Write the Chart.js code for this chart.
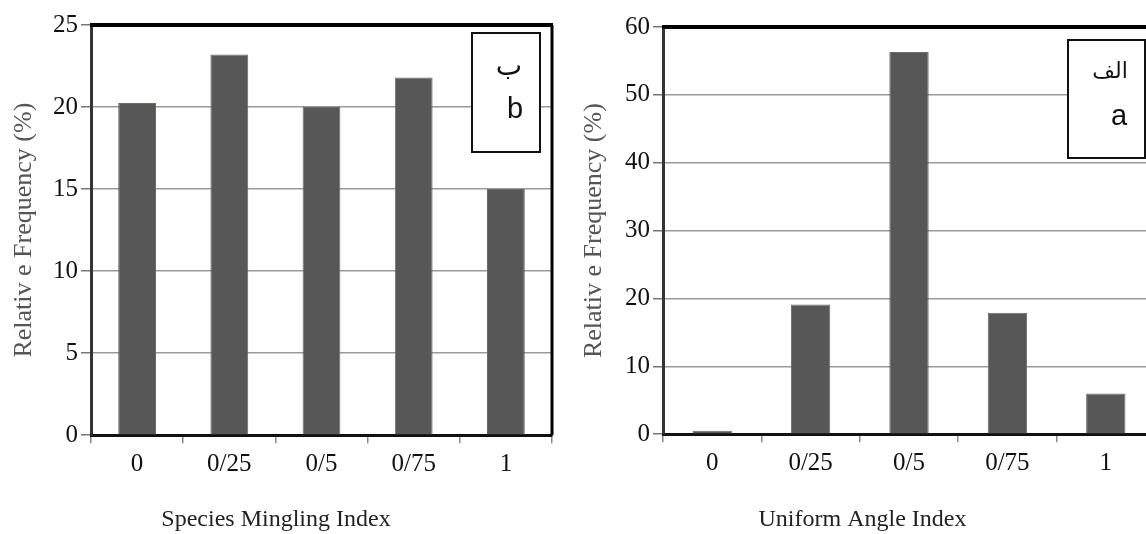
<!DOCTYPE html>
<html>
<head>
<meta charset="utf-8">
<script src="https://cdn.jsdelivr.net/npm/chart.js@4.4.1/dist/chart.umd.min.js"></script>
<style>
  html, body { margin: 0; padding: 0; background: #fff; }
  #wrap { position: relative; width: 1146px; height: 534px; overflow: hidden; background: #fff; }
  #chartB { position: absolute; left: 0; top: 0; }
  #chartA { position: absolute; left: 570px; top: 0; }
</style>
</head>
<body>
<div id="wrap">
  <canvas id="chartB" width="586" height="534"></canvas>
  <canvas id="chartA" width="654" height="534"></canvas>
</div>
<script>
'use strict';
var INDEX_LABELS = ['0', '0/25', '0/5', '0/75', '1'];
var MINGLING_VALUES = [20.25, 23.2, 20.0, 21.8, 15.0];
var ANGLE_VALUES = [0.5, 19.1, 56.3, 17.9, 6.0];
var MINGLING_AXIS = [0, 25, 5];   // min, max, step
var ANGLE_AXIS = [0, 60, 10];
var Y_TITLE = 'Relativ e Frequency (%)';
var MINGLING_TITLE = 'Species Mingling Index';
var ANGLE_TITLE = 'Uniform Angle Index';
var MINGLING_TAG = ['ب', 'b'];
var ANGLE_TAG = ['الف', 'a'];

var SERIF = 'Liberation Serif, Times New Roman, serif';

// thick top and right border of the plot, plus the white tag box
var framePlugin = {
    id: 'frame',
    afterDraw: function (chart, args, opts) {
        var ctx = chart.ctx;
        var a = chart.chartArea;
        ctx.save();
        ctx.strokeStyle = '#000';
        ctx.lineWidth = 4;
        ctx.beginPath();
        ctx.moveTo(a.left - 1, a.top);
        ctx.lineTo(a.right + 1, a.top);
        ctx.stroke();
        ctx.lineWidth = 3;
        ctx.beginPath();
        ctx.moveTo(a.right, a.top);
        ctx.lineTo(a.right, a.bottom);
        ctx.stroke();

        var b = opts.box;
        ctx.fillStyle = '#fff';
        ctx.fillRect(b.x, b.y, b.w, b.h);
        ctx.lineWidth = 2;
        ctx.strokeStyle = '#111';
        ctx.strokeRect(b.x, b.y, b.w, b.h);
        ctx.fillStyle = '#111';
        ctx.textAlign = 'center';
        ctx.textBaseline = 'middle';
        ctx.font = b.fs + 'px "DejaVu Sans", sans-serif';
        ctx.fillText(opts.lines[0], b.tx[0], b.ty[0]);
        ctx.font = '29px "Liberation Sans", Arial, sans-serif';
        ctx.fillText(opts.lines[1], b.tx[1], b.ty[1]);
        ctx.restore();
    }
};

function makeChart(id, values, axis, xTitle, tag, g) {
    var ctx = document.getElementById(id).getContext('2d');
    return new Chart(ctx, {
        type: 'bar',
        data: {
            labels: INDEX_LABELS,
            datasets: [{
                data: values,
                backgroundColor: '#575757',
                borderColor: '#6c6c5e',
                borderWidth: 1,
                barPercentage: g.bar,
                categoryPercentage: 1.0
            }]
        },
        plugins: [framePlugin],
        options: {
            responsive: false,
            animation: false,
            devicePixelRatio: 1,
            layout: { padding: { left: 0, top: g.top, right: g.right, bottom: 0 } },
            plugins: {
                legend: { display: false },
                tooltip: { enabled: false },
                title: {
                    display: true,
                    position: 'bottom',
                    text: xTitle,
                    color: '#222',
                    font: { family: SERIF, size: 24, weight: 'normal' },
                    padding: { top: 14, bottom: 0 }
                },
                frame: { box: g.box, lines: tag }
            },
            scales: {
                x: {
                    afterFit: function (scale) { scale.height = g.xh; },
                    grid: {
                        drawOnChartArea: false,
                        drawTicks: true,
                        tickLength: 8,
                        tickColor: '#888',
                        lineWidth: 1.5
                    },
                    border: { color: '#111', width: 3 },
                    ticks: {
                        color: '#111',
                        padding: 6,
                        font: { family: SERIF, size: 25 }
                    }
                },
                y: {
                    min: axis[0],
                    max: axis[1],
                    afterFit: function (scale) { scale.width = g.yw; },
                    grid: {
                        color: '#9a9a9a',
                        lineWidth: 1.5,
                        tickLength: 10,
                        tickColor: '#777'
                    },
                    border: { color: '#333', width: 3 },
                    ticks: {
                        stepSize: axis[2],
                        color: '#111',
                        padding: 3,
                        font: { family: SERIF, size: 25 }
                    },
                    title: {
                        display: true,
                        text: Y_TITLE,
                        color: '#555',
                        font: { family: SERIF, size: 26 },
                        padding: { top: 9, bottom: 0 }
                    }
                }
            }
        }
    });
}

makeChart('chartB', MINGLING_VALUES, MINGLING_AXIS, MINGLING_TITLE, MINGLING_TAG, {
    top: 25, right: 34, yw: 91, xh: 56, bar: 0.41,
    box: { x: 472, y: 33, w: 68, h: 119, fs: 28, tx: [509, 515], ty: [68, 110] }
});

makeChart('chartA', ANGLE_VALUES, ANGLE_AXIS, ANGLE_TITLE, ANGLE_TAG, {
    top: 27, right: 69, yw: 93, xh: 57, bar: 0.40,
    box: { x: 498, y: 40, w: 77, h: 118, fs: 22, tx: [540, 549], ty: [72, 117] }
});
</script>
</body>
</html>
